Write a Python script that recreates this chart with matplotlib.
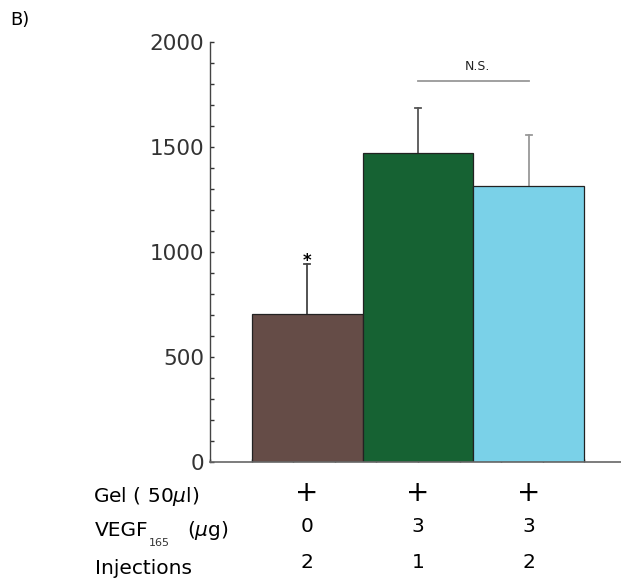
import matplotlib.pyplot as plt
from matplotlib.ticker import MultipleLocator
import numpy as np

# Data
groups = ['brown', 'green', 'cyan']
means = [703, 1471, 1314]
errors = [238, 212, 243]
bar_colors = ['#654c47', '#166233', '#7ad1e8']
err_colors = ['#444444', '#555555', '#999999']

gel_row = ['+', '+', '+']
vegf_row = ['0', '3', '3']
inj_row = ['2', '1', '2']

plt.rcParams['font.family'] = ['DejaVu Sans']

fig = plt.figure(figsize=(6.21, 5.87), dpi=100)
ax = fig.add_axes([0.3382, 0.2135, 0.6618, 0.7155])

# bars sit on a grid of 8/3 units, axis runs 0..9.88
width = 8 / 3
centers = 1 + width / 2 + np.arange(len(means)) * width

for i in range(len(means)):
    ax.bar(centers[i], means[i], width=width, color=bar_colors[i],
           edgecolor='#222222', linewidth=0.9, zorder=2)
    # upper error bar only, with a small cap
    top = means[i] + errors[i]
    ax.plot([centers[i], centers[i]], [means[i], top], color=err_colors[i], lw=1.3, zorder=1)
    ax.plot([centers[i] - 0.07, centers[i] + 0.07], [top, top], color=err_colors[i], lw=1.3, zorder=1)

ax.set_xlim(0, 9.88)
ax.set_ylim(0, 2000)
for s in ['top', 'right']:
    ax.spines[s].set_visible(False)
ax.spines['left'].set_color('#444444')
ax.spines['bottom'].set_color('#666666')
ax.spines['left'].set_linewidth(1.0)
ax.spines['bottom'].set_linewidth(1.2)

ax.yaxis.set_major_locator(MultipleLocator(500))
ax.yaxis.set_minor_locator(MultipleLocator(100))
ax.xaxis.set_major_locator(MultipleLocator(1))
ax.tick_params(axis='y', which='both', direction='in', length=3, width=1, color='#333333',
               labelsize=15.5, labelcolor='#333333', pad=4)
ax.tick_params(axis='x', which='both', direction='in', length=2.5, width=1, color='#222222',
               labelbottom=False)

# significance marks
ax.text(centers[0], means[0] + errors[0] - 30, '*', ha='center', va='bottom',
        fontsize=12, fontweight='bold')
ax.plot([centers[1], centers[2]], [1814, 1814], color='#999999', lw=1.3, clip_on=False)
ax.text(6.44, 1850, 'N.S.', ha='center', va='bottom', fontsize=9, color='#222222')

# condition table under the axis
def fy(px):
    return 1 - px / 587

fig.text(93 / 621, fy(496), 'Gel ( 50$\\mu$l)', fontsize=14.5, va='center', ha='left')
fig.text(95 / 621, fy(530), 'VEGF', fontsize=14.5, va='center', ha='left')
fig.text(149 / 621, fy(543), '165', fontsize=8, va='center', ha='left', color='#333333')
fig.text(187 / 621, fy(530), '($\\mu$g)', fontsize=14.5, va='center', ha='left')
fig.text(95 / 621, fy(568), 'Injections', fontsize=14.5, va='center', ha='left')

val_y = [493, 527, 563]
for i, c in enumerate(centers):
    xf = (210 + c * 41.6) / 621
    fig.text(xf, fy(val_y[0]), gel_row[i], fontsize=20, ha='center', va='center')
    fig.text(xf, fy(val_y[1]), vegf_row[i], fontsize=14.5, ha='center', va='center')
    fig.text(xf, fy(val_y[2]), inj_row[i], fontsize=14.5, ha='center', va='center')

fig.text(10 / 621, fy(20), 'B)', fontsize=13, ha='left', va='center')

fig.savefig('out.png', dpi=100)
